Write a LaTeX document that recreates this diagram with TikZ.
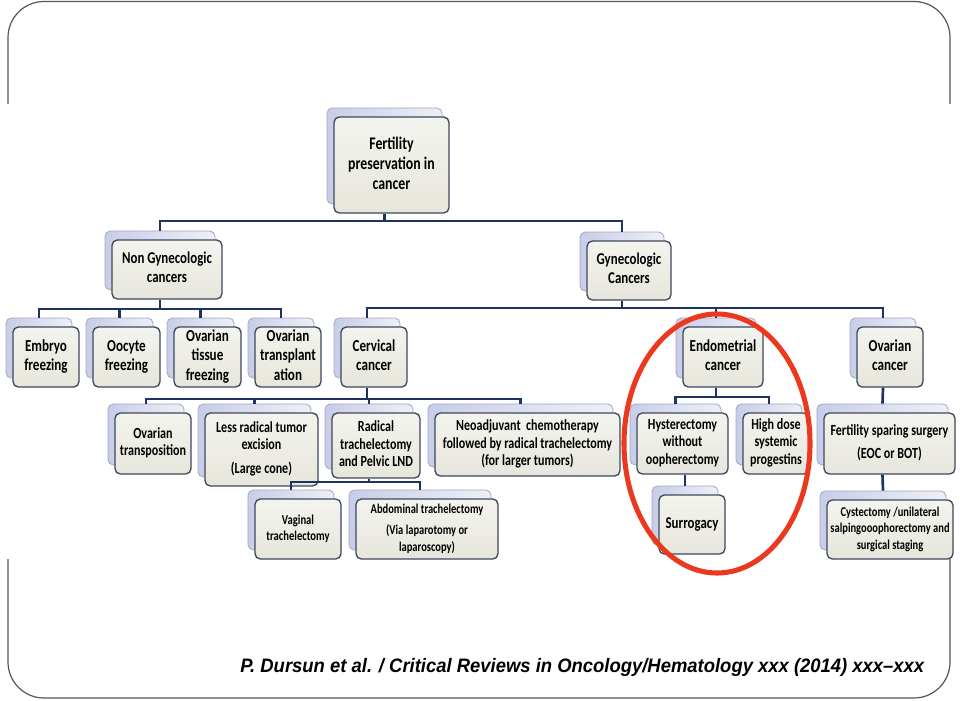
\documentclass[tikz,border=0pt]{standalone}
\usepackage{fontspec}
\setmainfont{Carlito}
\newfontfamily\capfont{Liberation Sans}
\usepackage{graphicx}
\definecolor{bkdraw}{RGB}{160,168,190}
\definecolor{bkL}{RGB}{200,205,232}
\definecolor{bkR}{RGB}{238,240,247}
\definecolor{frdraw}{RGB}{62,72,92}
\definecolor{frT}{RGB}{244,244,239}
\definecolor{frB}{RGB}{230,230,220}
\definecolor{navy}{RGB}{30,52,96}
\definecolor{framecol}{RGB}{85,85,85}
\definecolor{ellred}{RGB}{236,56,30}
\tikzset{
  backbox/.style={draw=bkdraw, line width=0.6pt, left color=bkL, right color=bkR, rounded corners=4pt, inner sep=0pt},
  frontbox/.style={draw=frdraw, line width=1pt, top color=frT, bottom color=frB, rounded corners=4pt, inner sep=0pt},
  conn/.style={draw=navy, line width=2pt},
}
\newcommand\pairbox[8]{%
  \node[backbox, minimum width={(#4-#2)*0.75pt}, minimum height={(#5-#3)*0.75pt}] (b#1) at ({(#2+#4)/2-7},{(#3+#5)/2-9}) {};
  \node[frontbox, minimum width={(#4-#2)*0.75pt}, minimum height={(#5-#3)*0.75pt}, font={\fontsize{#6}{#7}\selectfont\bfseries}] (f#1) at ({(#2+#4)/2},{(#3+#5)/2}) {\scalebox{0.78}[1]{\begin{tabular}{@{}c@{}}#8\end{tabular}}};
}
\begin{document}
\begin{tikzpicture}[x=0.75pt,y=-0.75pt]
\useasboundingbox (0,0) rectangle (960,700);
% page frame
\draw[framecol, line width=0.9pt, rounded corners=27pt] (8,1.5) rectangle (950,698);
\fill[white] (0,104) rectangle (960,559);
% boxes
\pairbox{Fert}{334}{117}{449}{213}{13.3pt}{15pt}{Fertility\\preservation in\\cancer}
\pairbox{NG}{112}{240}{222}{299}{12.4pt}{13.9pt}{Non Gynecologic\\cancers}
\pairbox{Gy}{587}{241}{671}{300}{12.4pt}{13.9pt}{Gynecologic\\Cancers}
\pairbox{Emb}{13}{327}{79}{387}{12.6pt}{14.6pt}{Embryo\\freezing}
\pairbox{Ooc}{93}{327}{160}{387}{12.6pt}{14.6pt}{Oocyte\\freezing}
\pairbox{OvT}{174}{327}{241}{387}{12.6pt}{14.6pt}{Ovarian\\tissue\\freezing}
\pairbox{OvP}{255}{327}{321}{387}{12.6pt}{14.6pt}{Ovarian\\transplant\\ation}
\pairbox{Cer}{341}{327}{407}{387}{12.6pt}{14.6pt}{Cervical\\cancer}
\pairbox{End}{683}{327}{763}{387}{12.6pt}{14.6pt}{Endometrial\\cancer}
\pairbox{OvC}{857}{327}{923}{387}{12.6pt}{14.6pt}{Ovarian\\cancer}
\pairbox{Tra}{115}{413}{191}{474}{11.6pt}{13.1pt}{Ovarian\\transposition}
\pairbox{Les}{205}{413}{318}{486}{11.6pt}{13.1pt}{Less radical tumor\\excision\\[5pt](Large cone)}
\pairbox{Rad}{332}{413}{420}{478}{11.6pt}{13.1pt}{Radical\\trachelectomy\\and Pelvic LND}
\pairbox{Neo}{435}{413}{620}{476}{11.6pt}{13.1pt}{Neoadjuvant\ \ chemotherapy\\followed by radical trachelectomy\\(for larger tumors)}
\pairbox{Hys}{637}{413}{728}{474}{11.6pt}{13.1pt}{Hysterectomy\\without\\oopherectomy}
\pairbox{Hig}{743}{413}{809}{474}{11.6pt}{13.1pt}{High dose\\systemic\\progestins}
\pairbox{Fsp}{824}{413}{955}{474}{11.6pt}{13.1pt}{Fertility sparing surgery\\[4pt](EOC or BOT)}
\pairbox{Vag}{255}{499}{341}{559}{10.2pt}{12.2pt}{Vaginal\\trachelectomy}
\pairbox{Abd}{356}{499}{498}{559}{10.1pt}{12.4pt}{Abdominal trachelectomy\\[4pt](Via laparotomy or\\laparoscopy)}
\pairbox{Sur}{659}{495}{725}{554}{12.4pt}{14pt}{Surrogacy}
\pairbox{Cys}{827}{500}{953}{559}{10.1pt}{12.4pt}{Cystectomy /unilateral\\salpingooophorectomy and\\surgical staging}
% junctions
\coordinate (jA) at (bFert.center |- 0,221);
\coordinate (jB) at (bNG.center |- 0,309);
\coordinate (jC) at (bGy.center |- 0,308);
\coordinate (jD) at (bCer.center |- 0,399);
\coordinate (jE) at (bEnd.center |- 0,397);
\coordinate (jF) at (bRad.center |- 0,482);
% connectors
\draw[conn] (bFert.center |- fFert.south) -- (jA);
\draw[conn] (bNG.north) |- (jA) -| (bGy.north);
\draw[conn] (bNG.center |- fNG.south) -- (jB);
\draw[conn] (bEmb.north) |- (jB) -| (bOvP.north);
\draw[conn] (bOoc.north) -- (bOoc.north |- jB);
\draw[conn] (bOvT.north) -- (bOvT.north |- jB);
\draw[conn] (bGy.center |- fGy.south) -- (jC);
\draw[conn] (bCer.north) |- (jC) -| (bOvC.north);
\draw[conn] (bEnd.north) -- (bEnd.north |- jC);
\draw[conn] (bCer.center |- fCer.south) -- (jD);
\draw[conn] (bTra.north) |- (jD) -| (bNeo.north);
\draw[conn] (bLes.north) -- (bLes.north |- jD);
\draw[conn] (bRad.north) -- (bRad.north |- jD);
\draw[conn] (bEnd.center |- fEnd.south) -- (jE);
\draw[conn] (bHys.north) |- (jE) -| (bHig.north);
\draw[conn] (bOvC.center |- fOvC.south) -- (bFsp.north);
\draw[conn] (bRad.center |- fRad.south) -- (jF);
\draw[conn] (bVag.north) |- (jF) -| (bAbd.north);
\draw[conn] (bSur.north |- fHys.south) -- (bSur.north);
\draw[conn] (bFsp.center |- fFsp.south) -- (bCys.north);
% highlight
\draw[ellred, line width=3.8pt] (717,443.5) ellipse [x radius=93, y radius=129.5];
% caption
\node[anchor=base west, inner sep=0pt, font={\capfont\fontsize{14.6pt}{17pt}\selectfont\bfseries\itshape}] (cap) at (240,672) {\resizebox{513pt}{\height}{P. Dursun et al. / Critical Reviews in Oncology/Hematology xxx (2014) xxx–xxx}};
\end{tikzpicture}
\end{document}
